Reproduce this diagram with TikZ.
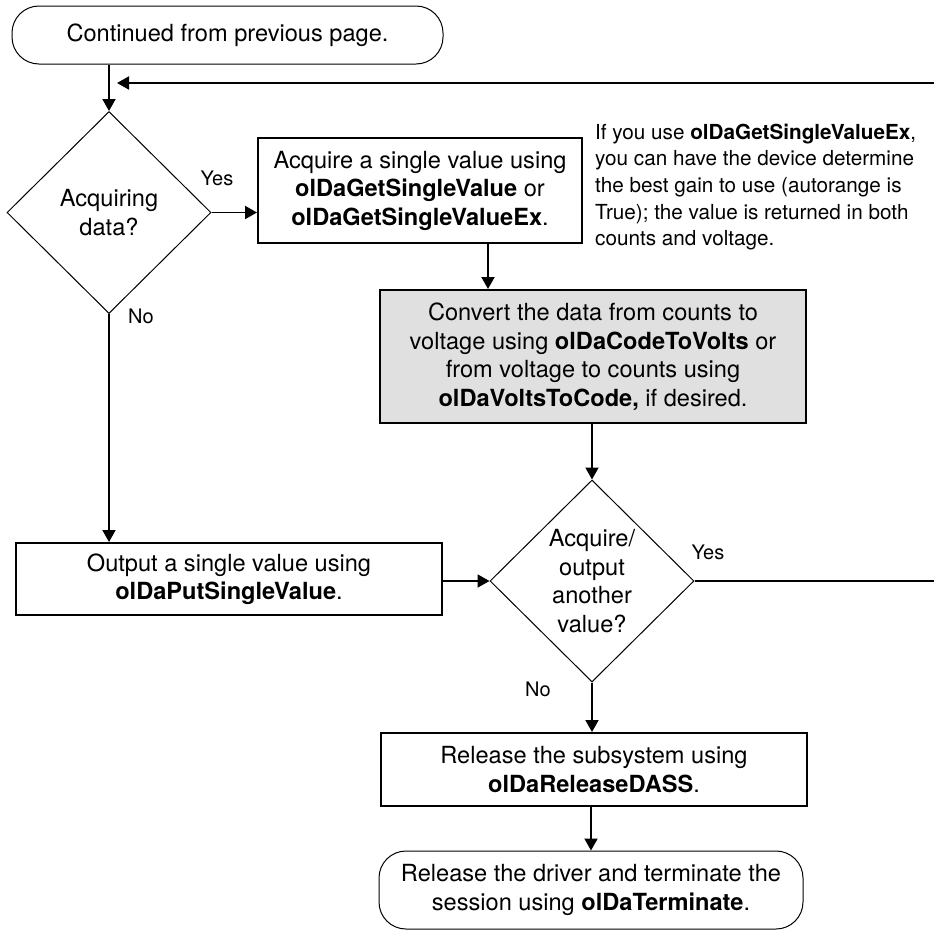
\documentclass[tikz,border=0pt]{standalone}
\usepackage{fontspec}
\setmainfont{TeX Gyre Heros}
\usetikzlibrary{shapes.geometric,arrows.meta}
\definecolor{panelgray}{RGB}{224,224,224}
\begin{document}
\begin{tikzpicture}[x=1pt,y=-1pt,
  base/.style={font=\fontsize{23.6}{28.5}\selectfont, align=center, inner sep=0pt},
  procbox/.style={base, draw, line width=2pt, rectangle},
  termbox/.style={base, draw, line width=1pt, rectangle, rounded corners=27pt},
  decision/.style={base, draw, line width=1pt, diamond, minimum width=204pt, minimum height=202pt},
  conn/.style={line width=1.9pt, -{Triangle[length=12pt,width=13pt]}},
  plainconn/.style={line width=1.9pt},
  lbl/.style={font=\fontsize{20}{24}\selectfont, inner sep=0pt},
  notetext/.style={font=\fontsize{20.7}{26.7}\selectfont, align=left, inner sep=0pt, anchor=west}]
\useasboundingbox (0,0) rectangle (934,932);
\clip (0,0) rectangle (934,932);

% nodes
\node[termbox, minimum width=431pt, minimum height=58pt] (start) at (227.5,35) {Continued from previous page.};
\node[decision] (acq) at (109,212.5) {Acquiring\\data?};
\node[procbox, minimum width=324pt, minimum height=105pt] (getval) at (420,190.5)
  {Acquire a single value using\\\textbf{olDaGetSingleValue} or\\\textbf{olDaGetSingleValueEx}.};
\node[notetext] (note) at (595,187)
  {If you use \textbf{olDaGetSingleValueEx},\\you can have the device determine\\the best gain to use (autorange is\\True); the value is returned in both\\counts and voltage.};
\node[procbox, fill=panelgray, minimum width=426pt, minimum height=133pt] (convert) at (593,356.5)
  {Convert the data from counts to\\voltage using \textbf{olDaCodeToVolts} or\\from voltage to counts using\\\textbf{olDaVoltsToCode,} if desired.};
\node[decision] (again) at (592,581) {Acquire/\\output\\another\\value?};
\node[procbox, minimum width=426pt, minimum height=72pt] (putval) at (229,579)
  {Output a single value using\\\textbf{olDaPutSingleValue}.};
\node[procbox, minimum width=426pt, minimum height=73pt] (release) at (594,769.5)
  {Release the subsystem using\\\textbf{olDaReleaseDASS}.};
\node[termbox, minimum width=424pt, minimum height=78pt] (finish) at (591,890)
  {Release the driver and terminate the\\session using \textbf{olDaTerminate}.};

% branch labels
\node[lbl] (yesA) at (217,178) {Yes};
\node[lbl] (noA) at (141,316) {No};
\node[lbl] (yesB) at (708,552) {Yes};
\node[lbl] (noB) at (538,689) {No};

% loop-back ends at the right edge
\coordinate (edgeB) at (934,581);
\coordinate (edgeTop) at (934,83);
\coordinate (loopTip) at (117,83);

% connectors
\draw[conn] (acq.north |- start.south) -- (acq.north);
\draw[conn] (edgeTop) -- (loopTip);
\draw[conn] (acq.east) -- (acq.east -| getval.west);
\draw[conn] ([xshift=68pt]getval.south) -- ([xshift=68pt]getval.south |- convert.north);
\draw[conn] (again.north |- convert.south) -- (again.north);
\draw[conn] (acq.south) -- (acq.south |- putval.north);
\draw[conn] (again.west -| putval.east) -- (again.west);
\draw[plainconn] (again.east) -- (edgeB);
\draw[conn] (again.south) -- (again.south |- release.north);
\draw[conn] (finish.north |- release.south) -- (finish.north);
\end{tikzpicture}
\end{document}
